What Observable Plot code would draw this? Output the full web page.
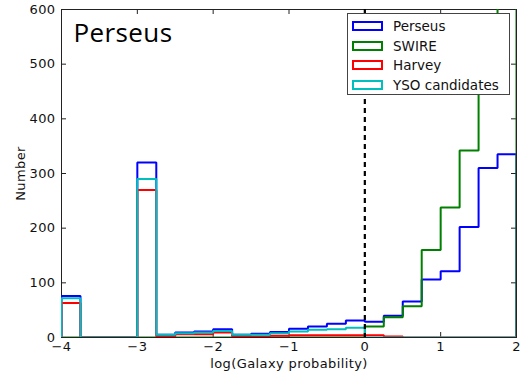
<!DOCTYPE html>
<html><head><meta charset="utf-8">
<script src="https://cdn.jsdelivr.net/npm/d3@7"></script>
<script src="https://cdn.jsdelivr.net/npm/@observablehq/plot@0.6"></script>
<style>
body{margin:0;background:#fff;}
#wrap{position:relative;width:521px;height:376px;}
#legend{position:absolute;left:347px;top:13px;width:163px;height:82px;border:1px solid #444;background:#fff;box-sizing:border-box;font:13.5px "DejaVu Sans",sans-serif;color:#111;}
.row{position:absolute;left:4px;height:16px;display:flex;align-items:center;white-space:nowrap}
.sw{width:31px;height:10px;border:2px solid;box-sizing:border-box;margin-right:10px}
</style></head><body><div id="wrap"></div>
<script>
const binStarts = [-4, -3.75, -3.5, -3.25, -3, -2.75, -2.5, -2.25, -2, -1.75, -1.5, -1.25, -1, -0.75, -0.5, -0.25, 0, 0.25, 0.5, 0.75, 1, 1.25, 1.5, 1.75];
const perseus = [76, 0, 0, 0, 320, 5, 9, 11, 15, 5, 7, 10, 16, 20, 25, 31, 29, 40, 66, 106, 121, 202, 310, 335];
const swire   = [0, 0, 0, 0, 0, 0, 0, 0, 0, 0, 0, 0, 0, 0, 0, 0, 20, 37, 57, 160, 238, 342, 510, 700];
const harvey  = [63, 0, 0, 0, 270, 2, 6, 6, 9, 2, 2, 3, 4, 4, 4, 4, 4, 2, 0, 0, 0, 0, 0, 0];
const yso     = [72, 0, 0, 0, 290, 5, 8, 9, 12, 5, 5, 8, 11, 14, 15, 18, 0, 0, 0, 0, 0, 0, 0, 0];
const seriesNames = ["Perseus", "SWIRE", "Harvey", "YSO candidates"];
const seriesColors = ["#0000ff", "#008000", "#ff0000", "#00bfbf"];
const xTicks = [-4, -3, -2, -1, 0, 1, 2];
const yTicks = [0, 100, 200, 300, 400, 500, 600];
const titleText = "Perseus";
const xLabel = "log(Galaxy probability)";
const yLabel = "Number";
const xEnd = 2;

const W = 521, H = 376, mT = 9, mR = 5, mB = 39, mL = 61;
const fw = W - mL - mR, fh = H - mT - mB, tk = 5;

function steps(values) {
  const pts = [{x: binStarts[0], y: 0}];
  values.forEach((v, i) => pts.push({x: binStarts[i], y: v}));
  pts.push({x: xEnd, y: 0});
  return pts;
}
const allSeries = [perseus, swire, harvey, yso];

const chart = Plot.plot({
  width: W, height: H,
  marginTop: mT, marginRight: mR, marginBottom: mB, marginLeft: mL,
  style: {fontFamily: "DejaVu Sans, sans-serif", fontSize: "13px", letterSpacing: "0.4px", color: "#111", background: "#fff"},
  x: {domain: [-4, 2]},
  y: {domain: [0, 600]},
  marks: [
    Plot.frame({stroke: "#222", strokeWidth: 1}),
    Plot.tickX(xTicks, {x: d => d, insetTop: fh - tk, stroke: "#222"}),
    Plot.tickX(xTicks, {x: d => d, insetBottom: fh - tk, stroke: "#222"}),
    Plot.tickY(yTicks, {y: d => d, insetRight: fw - tk, stroke: "#222"}),
    Plot.tickY(yTicks, {y: d => d, insetLeft: fw - tk, stroke: "#222"}),
    Plot.axisX(xTicks, {tickSize: 0, tickPadding: 4, tickFormat: d3.format("d"), fontSize: 13,
      label: xLabel, labelAnchor: "center", labelArrow: "none", labelOffset: 30}),
    Plot.axisY(yTicks, {tickSize: 0, tickPadding: 6, tickFormat: d3.format("d"), fontSize: 13,
      label: yLabel, labelAnchor: "center", labelArrow: "none", labelOffset: 46}),
    ...allSeries.map((vals, i) => Plot.line(steps(vals), {
      x: "x", y: "y", curve: "step-after", stroke: seriesColors[i], strokeWidth: 2,
      strokeLinejoin: "miter", clip: true
    })),
    Plot.ruleX([0], {stroke: "#000", strokeWidth: 2.2, strokeDasharray: "5,4"}),
    Plot.text([titleText], {frameAnchor: "top-left", dx: 12, dy: 14, fontSize: 26,
      fontFamily: "Open Sans, sans-serif", fill: "#000", textAnchor: "start", lineAnchor: "top"})
  ]
});
const wrap = document.getElementById("wrap");
wrap.appendChild(chart);
const leg = document.createElement("div");
leg.id = "legend";
seriesNames.forEach((n, i) => {
  const r = document.createElement("div");
  r.className = "row";
  r.style.top = (4 + i * 19.5) + "px";
  const s = document.createElement("div");
  s.className = "sw";
  s.style.borderColor = seriesColors[i];
  r.appendChild(s);
  r.appendChild(document.createTextNode(n));
  leg.appendChild(r);
});
wrap.appendChild(leg);
</script></body></html>
